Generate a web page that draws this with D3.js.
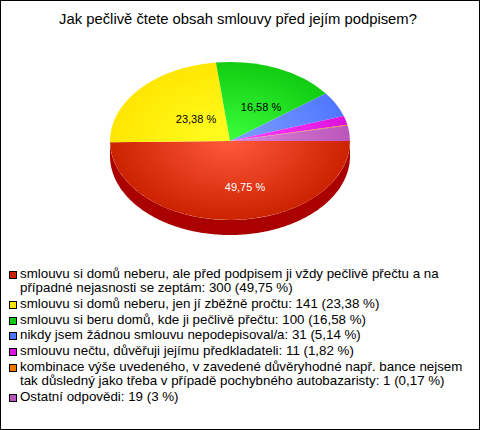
<!DOCTYPE html>
<html><head><meta charset="utf-8">
<script src="https://cdn.jsdelivr.net/npm/d3@7/dist/d3.min.js"></script>
<style>html,body{margin:0;background:#fff}svg{display:block}</style></head>
<body><svg id="c" width="480" height="430"></svg>
<script>
const title = "Jak pečlivě čtete obsah smlouvy před jejím podpisem?";
const values = [300, 141, 100, 31, 11, 1, 19];
const percentLabels = ["49,75 %", "23,38 %", "16,58 %"];
const labelX = [245, 196, 261];
const labelY = [187, 119, 107];
const colors = ["#cc2200", "#ffe600", "#11cc11", "#4f77ff", "#dd11dd", "#ee7700", "#bb55bb"];
const centerColors = ["#ff5a3c", "#ffff22", "#3cff3c", "#7fa0ff", "#ff44ff", "#ff9933", "#dd88dd"];
const legendLines = [
 ["smlouvu si domů neberu, ale před podpisem ji vždy pečlivě přečtu a na", "případné nejasnosti se zeptám: 300 (49,75 %)"],
 ["smlouvu si domů neberu, jen jí zběžně pročtu: 141 (23,38 %)"],
 ["smlouvu si beru domů, kde ji pečlivě přečtu: 100 (16,58 %)"],
 ["nikdy jsem žádnou smlouvu nepodepisoval/a: 31 (5,14 %)"],
 ["smlouvu nečtu, důvěřuji jejímu předkladateli: 11 (1,82 %)"],
 ["kombinace výše uvedeného, v zavedené důvěryhodné např. bance nejsem", "tak důsledný jako třeba v případě pochybného autobazaristy: 1 (0,17 %)"],
 ["Ostatní odpovědi: 19 (3 %)"]
];
const svg = d3.select("#c");
const font = "'Liberation Sans', Arial, sans-serif";
svg.append("rect").attr("x",.5).attr("y",.5).attr("width",479).attr("height",429).attr("fill","#fff").attr("stroke","#000");
svg.append("text").attr("x",238).attr("y",24).attr("text-anchor","middle").attr("font-family",font).attr("font-size",14.8).text(title);

const cx=230, cy=141, rx=120, ry=79, depth=15;
const defs = svg.append("defs");
colors.forEach((c,i)=>{
  const g = defs.append("radialGradient").attr("id","g"+i).attr("gradientUnits","userSpaceOnUse")
    .attr("cx",0).attr("cy",0).attr("r",120);
  g.append("stop").attr("offset","0%").attr("stop-color",centerColors[i]);
  g.append("stop").attr("offset","100%").attr("stop-color",c);
});
const pie = d3.pie().sort(null).startAngle(Math.PI/2).endAngle(Math.PI/2+2*Math.PI);
const arcs = pie(values);
const arc = d3.arc().innerRadius(0).outerRadius(120);
const wallPts = d3.range(0,181).map(a=>{const t=a*Math.PI/180;return [cx+rx*Math.cos(t),cy+ry*Math.sin(t)];});
svg.append("path").attr("fill","#aa0000").attr("d",
  d3.line()(wallPts)+"L"+d3.line()(wallPts.slice().reverse().map(p=>[p[0],p[1]+depth])).slice(1)+"Z");
const face = svg.append("g").attr("transform",`translate(${cx},${cy}) scale(1,${ry/rx})`);
face.selectAll("path").data(arcs).join("path").attr("d",arc).attr("fill",(d,i)=>`url(#g${i})`);
svg.selectAll("text.p").data(percentLabels).join("text").attr("class","p")
  .attr("x",(d,i)=>labelX[i]).attr("y",(d,i)=>labelY[i]+4).attr("text-anchor","middle")
  .attr("font-family",font).attr("font-size",11).attr("fill",(d,i)=>i==0?"#fff":"#000").text(d=>d);

const lineH=14, pad=1.8;
let y=278;
legendLines.forEach((ls,i)=>{
  const by=Math.round(y);
  svg.append("rect").attr("x",9.5).attr("y",by-6.5).attr("width",7).attr("height",7).attr("fill",colors[i]).attr("stroke","#000");
  ls.forEach((l,j)=>svg.append("text").attr("x",20).attr("y",by+j*lineH).attr("font-family",font).attr("font-size",13.33).text(l));
  y+=ls.length*lineH+pad;
});
</script></body></html>
